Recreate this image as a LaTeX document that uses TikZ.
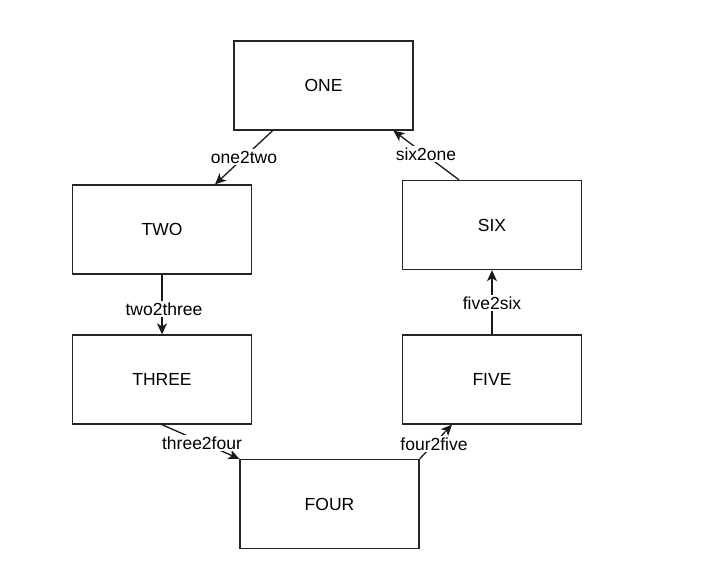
\documentclass[tikz,border=0pt]{standalone}
\usepackage{fontspec}
\setmainfont{Liberation Sans}
\usetikzlibrary{arrows.meta,calc}
\begin{document}
\begin{tikzpicture}[x=1pt,y=-1pt,
  box/.style={draw=black!85,line width=1.3pt,minimum width=179pt,minimum height=89pt,inner sep=0pt,font=\fontsize{17.5}{20}\selectfont},
  lbl/.style={fill=white,inner sep=1.5pt,font=\fontsize{17.5}{20}\selectfont},
  conn/.style={draw=black!90,line width=1.3pt,-{Stealth[length=11pt,width=10pt,inset=3pt]}}]
\useasboundingbox (0,0) rectangle (718,578);
\node[box] (ONE) at (323.5,85.5) {ONE};
\node[box] (TWO) at (162,229.5) {TWO};
\node[box] (THREE) at (162,379.5) {THREE};
\node[box] (FOUR) at (329.5,504) {FOUR};
\node[box] (FIVE) at (492,379.5) {FIVE};
\node[box] (SIX) at (492,225) {SIX};
\coordinate (a1) at ($(ONE.south west)!0.218!(ONE.south east)$);
\coordinate (a2) at ($(TWO.north west)!0.794!(TWO.north east)$);
\coordinate (b1) at ($(SIX.north west)!0.317!(SIX.north east)$);
\coordinate (b2) at ($(ONE.south west)!0.888!(ONE.south east)$);
\coordinate (c2) at ($(FIVE.south west)!0.278!(FIVE.south east)$);
\draw[conn] (a1) -- (a2);
\draw[conn] (b1) -- (b2);
\draw[conn] (TWO.south) -- (THREE.north);
\draw[conn] (THREE.south) -- (FOUR.north west);
\draw[conn] (FOUR.north east) -- (c2);
\draw[conn] (FIVE.north) -- (SIX.south);
\node[lbl] (l1) at (244,157) {one2two};
\node[lbl] (l2) at (426,154) {six2one};
\node[lbl] (l3) at (164,309) {two2three};
\node[lbl] (l4) at (202,443) {three2four};
\node[lbl] (l5) at (434,444) {four2five};
\node[lbl] (l6) at (492,303) {five2six};
\end{tikzpicture}
\end{document}
